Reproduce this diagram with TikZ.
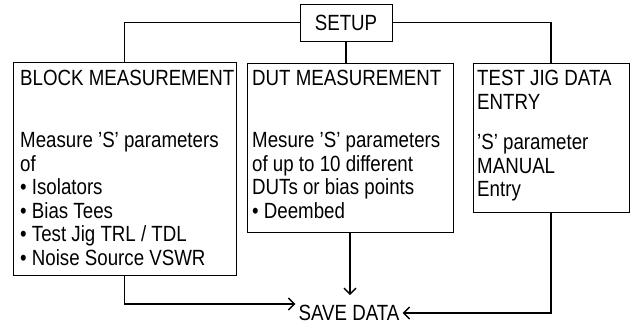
\documentclass[tikz,border=0pt]{standalone}
\usepackage{fontspec}
\setmainfont{Liberation Sans}[FakeStretch=0.85]
\usetikzlibrary{arrows.meta}
\begin{document}
\begin{tikzpicture}[x=1pt,y=-1pt,
  box/.style={draw, line width=0.9pt, anchor=north west, inner sep=0pt, outer sep=0pt},
  txt/.style={anchor=north west, inner sep=0pt, align=left, font=\fontsize{22}{23.5}\selectfont},
  conn/.style={line width=1.4pt},
  arr/.style={conn, -{Straight Barb[length=6pt,width=12pt]}}]
\useasboundingbox (0,0) rectangle (632,325);
% boxes
\node[box, minimum width=92pt, minimum height=37pt, font=\fontsize{22}{23.5}\selectfont] (setup) at (300,4) {SETUP};
\node[box, minimum width=223pt, minimum height=213pt] (block) at (13,62) {};
\node[box, minimum width=206pt, minimum height=169pt] (dut) at (247,63) {};
\node[box, minimum width=156pt, minimum height=149pt] (jig) at (473,63) {};
% texts
\node[txt] (btxt) at (20,70) {BLOCK MEASUREMENT\\[38.5pt]Measure 'S' parameters\\of\\\textbullet\ Isolators\\\textbullet\ Bias Tees\\\textbullet\ Test Jig TRL / TDL\\\textbullet\ Noise Source VSWR};
\node[txt] (dtxt) at (252,70) {DUT MEASUREMENT\\[38.5pt]Mesure 'S' parameters\\of up to 10 different\\DUTs or bias points\\\textbullet\ Deembed};
\node[txt] (jtxt) at (477,70) {TEST JIG DATA\\ENTRY\\[17pt]'S' parameter\\MANUAL\\Entry};
\node[font=\fontsize{22}{23.5}\selectfont, inner sep=3pt] (save) at (349,313) {SAVE DATA};
% connectors
\draw[conn] (setup.west) -| (block.north);
\draw[conn] (setup.east) -| (jig.north);
\draw[conn] (setup.south) -- (setup.south |- dut.north);
\draw[arr] (block.south) |- ([yshift=9pt]save.west);
\draw[arr] (dut.south) -- ++(0,63);
\draw[arr] (jig.south) |- (save.east);
\end{tikzpicture}
\end{document}
